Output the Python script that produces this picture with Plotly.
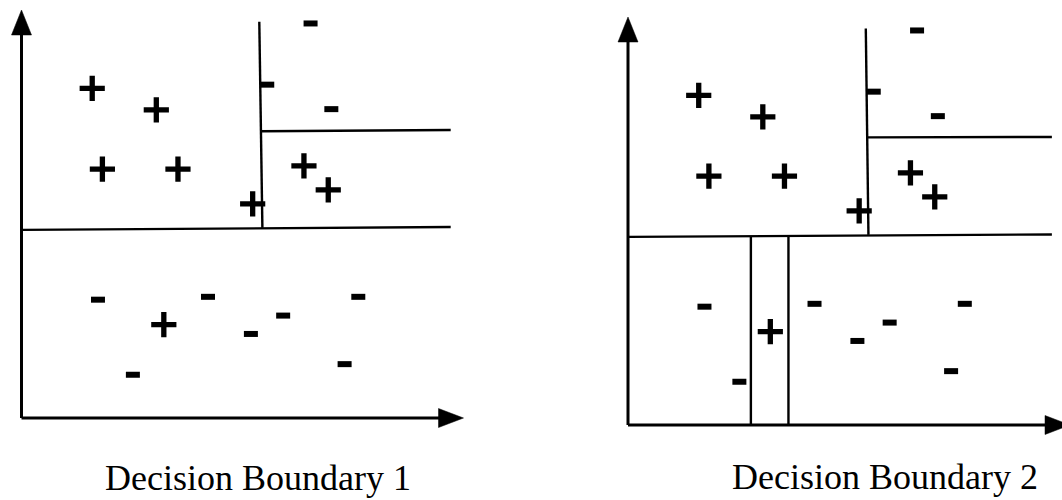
import plotly.graph_objects as go

# ---------------- data (shared points, two decision trees) ----------------
plus_x = [1.60, 3.05, 1.83, 3.54, 5.23, 6.39, 6.94, 3.22]
plus_y = [8.08, 7.55, 6.10, 6.10, 5.25, 6.18, 5.59, 2.29]
minus_x = [6.54, 5.56, 7.01, 1.73, 4.22, 2.52, 5.19, 5.92, 7.62, 7.31]
minus_y = [9.67, 8.17, 7.57, 2.90, 2.97, 1.06, 2.06, 2.51, 2.97, 1.32]

# boundary segments (x pairs / y pairs)
tree1_seg_x = [[0.02, 9.71], [5.38, 5.45], [5.43, 9.71]]
tree1_seg_y = [[4.61, 4.68], [9.71, 4.66], [7.03, 7.06]]
tree2_seg_x = [[0.02, 9.59], [5.38, 5.44], [5.43, 9.59], [2.78, 2.78], [3.63, 3.63]]
tree2_seg_y = [[4.61, 4.67], [9.72, 4.66], [7.05, 7.06], [4.61, 0.0], [4.61, 0.0]]

captions = ["Decision Boundary 1", "Decision Boundary 2"]

W, H = 1062, 500
PXX, PXY = 44.2, 40.8  # pixels per data unit


def flatten(sx, sy):
    xs, ys = [], []
    for a, b in zip(sx, sy):
        xs += a + [None]
        ys += b + [None]
    return xs, ys


fig = go.Figure()
panels = [("x", "y", tree1_seg_x, tree1_seg_y), ("x2", "y2", tree2_seg_x, tree2_seg_y)]
for xr, yr, sx, sy in panels:
    lx, ly = flatten(sx, sy)
    fig.add_trace(go.Scatter(x=lx, y=ly, mode="lines", xaxis=xr, yaxis=yr,
                             line=dict(color="black", width=2.4), hoverinfo="skip"))
    fig.add_trace(go.Scatter(x=plus_x, y=plus_y, mode="markers", xaxis=xr, yaxis=yr,
                             cliponaxis=False,
                             marker=dict(symbol="cross-thin", size=18,
                                         color="black", line=dict(color="black", width=5.3))))
    fig.add_trace(go.Scatter(x=minus_x, y=minus_y, mode="markers", xaxis=xr, yaxis=yr,
                             cliponaxis=False,
                             marker=dict(symbol="line-ew", size=10,
                                         color="black", line=dict(color="black", width=6))))

# axis arrows as shapes
ah_len_y = 25 / PXY
ah_half_y = 10 / PXX
ah_len_x = 25 / PXX
ah_half_x = 9.5 / PXY
shapes = []
for xr, yr in [("x", "y"), ("x2", "y2")]:
    shapes.append(dict(type="line", xref=xr, yref=yr, x0=0, y0=0, x1=0, y1=10 - ah_len_y + 0.1,
                       line=dict(color="black", width=3)))
    shapes.append(dict(type="line", xref=xr, yref=yr, x0=0, y0=0, x1=10 - ah_len_x + 0.1, y1=0,
                       line=dict(color="black", width=3)))
    shapes.append(dict(type="path", xref=xr, yref=yr,
                       path=f"M 0,10 L {-ah_half_y},{10 - ah_len_y} L {ah_half_y},{10 - ah_len_y} Z",
                       fillcolor="black", line=dict(color="black", width=0.5)))
    shapes.append(dict(type="path", xref=xr, yref=yr,
                       path=f"M 10,0 L {10 - ah_len_x},{ah_half_x} L {10 - ah_len_x},{-ah_half_x} Z",
                       fillcolor="black", line=dict(color="black", width=0.5)))

pad_lo, pad_hi = 0.4, 0.2
ax_common = dict(showgrid=False, zeroline=False, showticklabels=False, ticks="",
                 showline=False, fixedrange=True)

# left panel: origin at (21.5, 418) px
lx0 = 21.5 - pad_lo * PXX
lx1 = 21.5 + (10 + pad_lo) * PXX
ly_bot = 418 + pad_lo * PXY
ly_top = 418 - (10 + pad_hi) * PXY
# right panel: origin at (628, 425) px
rx0 = 628 - pad_lo * PXX
r_max = (W - 628) / PXX
ry_bot = 425 + pad_lo * PXY
ry_top = 425 - (10 + pad_hi) * PXY

fig.update_layout(
    width=W, height=H, margin=dict(l=0, r=0, t=0, b=0),
    paper_bgcolor="white", plot_bgcolor="white", showlegend=False,
    xaxis=dict(domain=[lx0 / W, lx1 / W], range=[-pad_lo, 10 + pad_lo], **ax_common),
    yaxis=dict(domain=[(H - ly_bot) / H, (H - ly_top) / H], range=[-pad_lo, 10 + pad_hi], **ax_common),
    xaxis2=dict(domain=[rx0 / W, 1.0], range=[-pad_lo, r_max], **ax_common),
    yaxis2=dict(domain=[(H - ry_bot) / H, (H - ry_top) / H], range=[-pad_lo, 10 + pad_hi], **ax_common),
    shapes=shapes,
    annotations=[
        dict(text=captions[0], x=258 / W, y=(H - 478) / H, xref="paper", yref="paper",
             xanchor="center", yanchor="middle", showarrow=False,
             font=dict(family="Liberation Serif", size=36, color="black")),
        dict(text=captions[1], x=885 / W, y=(H - 477) / H, xref="paper", yref="paper",
             xanchor="center", yanchor="middle", showarrow=False,
             font=dict(family="Liberation Serif", size=36, color="black")),
    ],
)

fig.write_html("out.html", config={"displayModeBar": False},
               post_script="document.body.style.margin='0';document.body.style.overflow='hidden';")
